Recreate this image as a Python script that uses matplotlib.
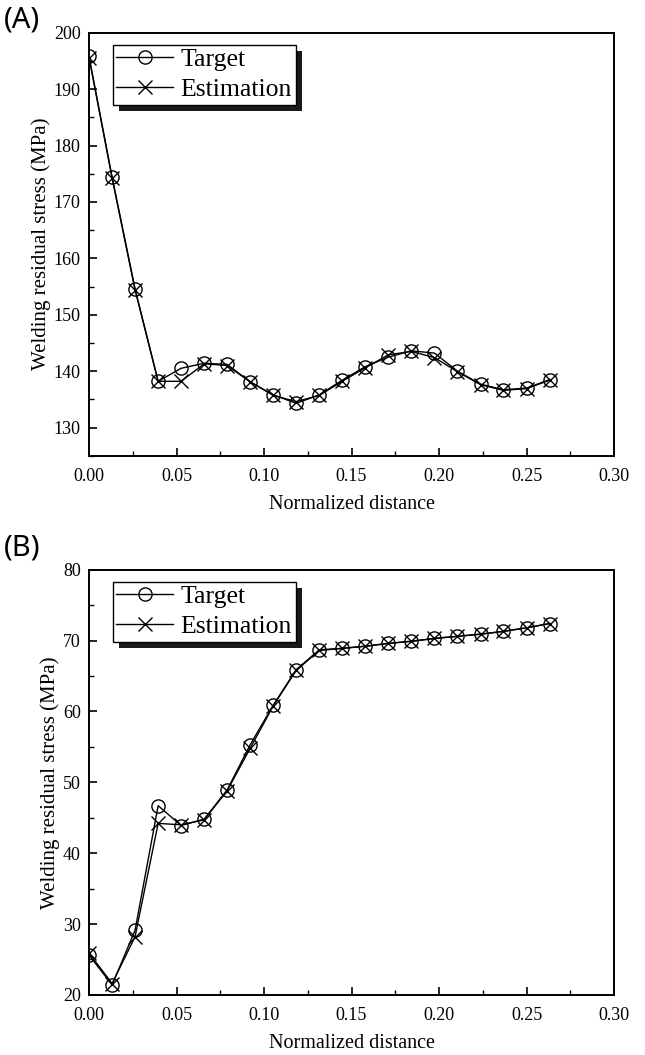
import matplotlib
matplotlib.use("Agg")
import matplotlib.pyplot as plt
from matplotlib.patches import Rectangle
from matplotlib.ticker import MultipleLocator

# =================================
# DATA
# =================================

# normalized distance (21 points, step 1/76)
distance = [0.0000, 0.0132, 0.0263, 0.0395, 0.0526, 0.0658, 0.0789, 0.0921,
            0.1053, 0.1184, 0.1316, 0.1447, 0.1579, 0.1711, 0.1842, 0.1974,
            0.2105, 0.2237, 0.2368, 0.2500, 0.2632]

# panel A
target_a = [195.8, 174.4, 154.6, 138.2, 140.5, 141.4, 141.2, 138.1, 135.8, 134.3,
            135.8, 138.4, 140.8, 142.5, 143.6, 143.2, 140.0, 137.7, 136.7, 137.0, 138.5]
estim_a = [195.6, 174.2, 154.4, 138.2, 138.2, 141.3, 141.0, 138.1, 135.7, 134.6,
           135.7, 138.2, 140.6, 142.9, 143.5, 142.4, 139.9, 137.6, 136.6, 136.9, 138.4]

# panel B
target_b = [25.6, 21.4, 29.1, 46.7, 43.9, 44.8, 48.9, 55.3, 60.9, 65.9,
            68.7, 68.9, 69.2, 69.6, 69.9, 70.3, 70.6, 70.9, 71.3, 71.8, 72.4]
estim_b = [25.9, 21.6, 28.2, 44.2, 44.0, 44.7, 48.8, 54.8, 60.8, 65.8,
           68.6, 68.9, 69.2, 69.6, 69.9, 70.3, 70.6, 70.9, 71.3, 71.8, 72.4]

panels = [
    ("(A)", target_a, estim_a, (125, 200), [130, 140, 150, 160, 170, 180, 190, 200]),
    ("(B)", target_b, estim_b, (20, 80), [20, 30, 40, 50, 60, 70, 80]),
]

# =================================
# FIGURE
# =================================

plt.rcParams["font.family"] = "Liberation Serif"

fig = plt.figure(figsize=(6.45, 10.55), dpi=100)

ax_rects = [
    [0.138, 0.568, 0.814, 0.401],
    [0.138, 0.057, 0.814, 0.403],
]
tag_y = [0.981, 0.4806]

legends = []

for (tag, tgt, est, ylim, yticks), rect, ty in zip(panels, ax_rects, tag_y):
    ax = fig.add_axes(rect)

    ax.plot(distance, tgt, color="black", lw=1.0, marker="o", ms=9.5,
            mfc="none", mec="black", mew=1.0, label="Target")
    ax.plot(distance, est, color="black", lw=1.0, marker="x", ms=9.5,
            mec="black", mew=1.0, label="Estimation")

    ax.set_xlim(0, 0.30)
    ax.set_ylim(*ylim)
    ax.set_xticks([0.0, 0.05, 0.10, 0.15, 0.20, 0.25, 0.30])
    ax.set_yticks(yticks)
    ax.xaxis.set_minor_locator(MultipleLocator(0.025))
    ax.yaxis.set_minor_locator(MultipleLocator(5))
    ax.xaxis.set_major_formatter(plt.FormatStrFormatter("%.2f"))

    ax.tick_params(which="major", direction="in", length=6, width=1.2,
                   labelsize=13, pad=6)
    ax.tick_params(axis="x", which="major", pad=9)
    ax.tick_params(which="minor", direction="in", length=3.5, width=1.0)
    for sp in ax.spines.values():
        sp.set_linewidth(1.4)

    ax.set_xlabel("Normalized distance", fontsize=14.5, labelpad=7)
    ax.set_ylabel("Welding residual stress (MPa)", fontsize=15, labelpad=2)

    leg = ax.legend(loc="upper left", bbox_to_anchor=(0.045, 0.972),
                    borderaxespad=0, fontsize=18.5, frameon=True, fancybox=False,
                    edgecolor="black", framealpha=1, handlelength=2.2,
                    handletextpad=0.3, labelspacing=0.25, borderpad=0.15)
    leg.get_frame().set_linewidth(1.0)
    legends.append((ax, leg))

    # panel tag
    fig.text(0.006, ty, tag, fontsize=21, family="Noto Sans",
             ha="left", va="center")

# black drop shadow behind each legend
fig.canvas.draw()
for ax, leg in legends:
    bb = leg.get_window_extent()
    inv = fig.transFigure.inverted()
    (x0, y0), (x1, y1) = inv.transform([(bb.x0 + 6, bb.y0 - 6), (bb.x1 + 6, bb.y1 - 6)])
    fig.patches.append(Rectangle((x0, y0), x1 - x0, y1 - y0,
                                 transform=fig.transFigure, facecolor="#1a1a1a",
                                 edgecolor="none", zorder=4))
    # move legend to the figure so it sits above the shadow
    leg.remove()
    fig.legends.append(leg)
    leg.set_figure(fig)
    leg.set_zorder(10)

fig.savefig("out.png", dpi=100)
